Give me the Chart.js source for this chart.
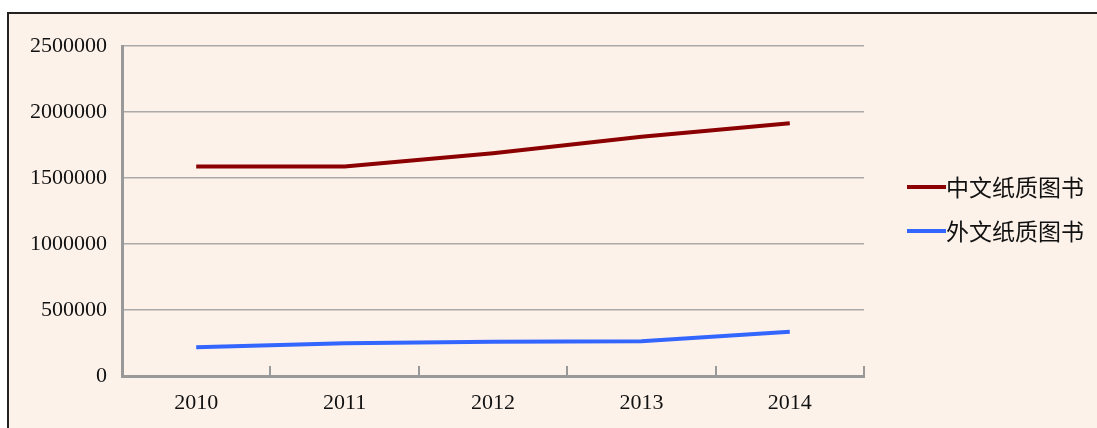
<!DOCTYPE html>
<html>
<head>
<meta charset="utf-8">
<script src="https://cdn.jsdelivr.net/npm/chart.js@4/dist/chart.umd.min.js"></script>
<style>
body { margin: 0; background: #fff; width: 1097px; height: 428px; overflow: hidden; }
#frame { position: absolute; left: 7px; top: 12px; right: 0; bottom: 0; background: #fdf2ea; border-top: 2px solid #222; border-left: 2px solid #222; }
#c { position: absolute; left: 0; top: 0; }
</style>
</head>
<body>
<div id="frame"></div>
<canvas id="c" width="1097" height="428"></canvas>
<script>
var years = ["2010", "2011", "2012", "2013", "2014"];
var chineseBooks = [1587000, 1587000, 1688000, 1813000, 1914000];
var foreignBooks = [217000, 248000, 260000, 264000, 336000];
var seriesNames = ["中文纸质图书", "外文纸质图书"];
var seriesColors = ["#8b0000", "#3366ff"];

var serif = "'Liberation Serif', 'DejaVu Serif', serif";

// tick marks pointing up from the x axis, and the legend on the right
var extras = {
    id: "extras",
    afterDraw: function (chart) {
        var ctx = chart.ctx;
        var xs = chart.scales.x;
        var area = chart.chartArea;
        var step = xs.width / years.length;
        ctx.save();
        ctx.strokeStyle = "#999";
        ctx.lineWidth = 2;
        for (var i = 1; i <= years.length; i++) {
            var x = Math.round(xs.left + step * i);
            ctx.beginPath();
            ctx.moveTo(x, area.bottom - 10);
            ctx.lineTo(x, area.bottom);
            ctx.stroke();
        }
        var ys = [187, 231];
        for (var k = 0; k < seriesNames.length; k++) {
            ctx.strokeStyle = seriesColors[k];
            ctx.lineWidth = 4;
            ctx.beginPath();
            ctx.moveTo(907, ys[k]);
            ctx.lineTo(946, ys[k]);
            ctx.stroke();
            ctx.fillStyle = "#111";
            ctx.font = "23px 'Noto Sans CJK SC'";
            ctx.textBaseline = "middle";
            ctx.textAlign = "left";
            ctx.fillText(seriesNames[k], 946, ys[k]);
        }
        ctx.restore();
    }
};

new Chart(document.getElementById("c"), {
    type: "line",
    data: {
        labels: years,
        datasets: [{
            label: seriesNames[0],
            data: chineseBooks,
            borderColor: seriesColors[0],
            borderWidth: 4,
            pointRadius: 0,
            tension: 0
        }, {
            label: seriesNames[1],
            data: foreignBooks,
            borderColor: seriesColors[1],
            borderWidth: 4,
            pointRadius: 0,
            tension: 0
        }]
    },
    options: {
        responsive: false,
        animation: false,
        layout: { padding: { left: 0, top: 46, right: 233, bottom: 0 } },
        plugins: { legend: { display: false }, tooltip: { enabled: false } },
        scales: {
            x: {
                offset: true,
                grid: { display: false, drawTicks: false },
                border: { color: "#999", width: 3 },
                ticks: { color: "#111", font: { family: serif, size: 22 }, padding: 14 },
                afterFit: function (s) { s.height = 52; }
            },
            y: {
                min: 0,
                max: 2500000,
                ticks: {
                    stepSize: 500000, color: "#111", font: { family: serif, size: 22 }, padding: 15,
                    callback: function (v) { return String(v); }
                },
                grid: { color: "#aaa", lineWidth: 1.5, drawTicks: false },
                border: { color: "#999", width: 3 },
                afterFit: function (s) { s.width = 122; }
            }
        }
    },
    plugins: [extras]
});
</script>
</body>
</html>
